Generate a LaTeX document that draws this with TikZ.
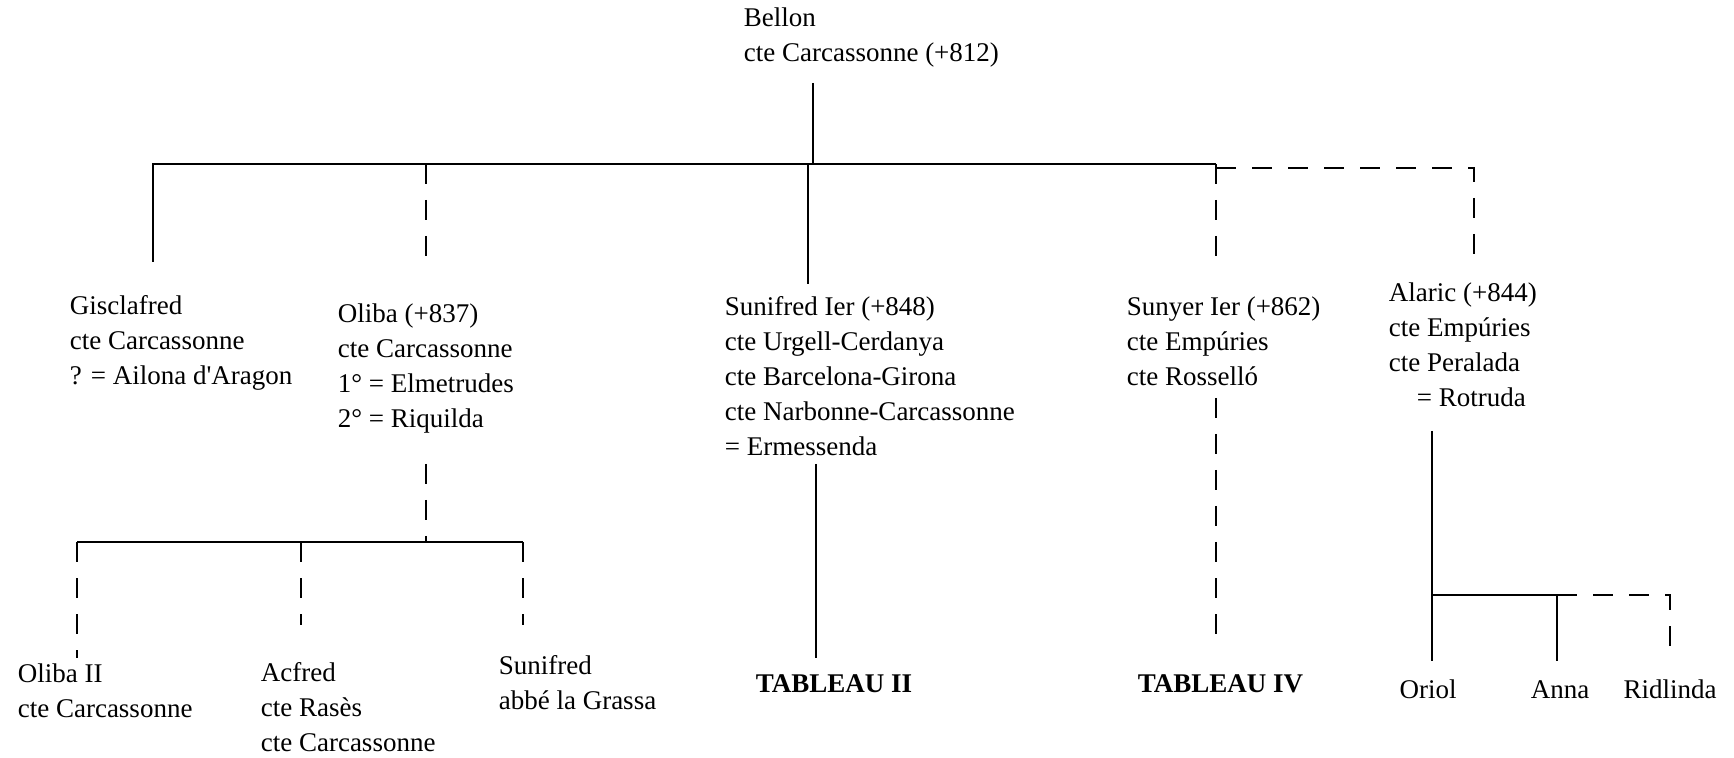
\documentclass[tikz,border=0pt]{standalone}
\usepackage{fontspec}
\setmainfont{Liberation Serif}[Ligatures=TeXOff]
\begin{document}
\begin{tikzpicture}[x=0.5pt,y=-0.5pt,line width=0.8pt,
    person/.style={anchor=base west,inner sep=0pt,align=left,
      font=\fontsize{13.5}{17.5}\selectfont},
    child/.style={anchor=base,inner sep=0pt,font=\fontsize{13.5}{17.5}\selectfont},
    uncertain/.style={dash pattern=on 10pt off 8pt}]
  \useasboundingbox (0,0) rectangle (1734,758);
  % persons (placed by the baseline of their last line)
  \node[person] (bellon) at (743,62) {Bellon\\cte Carcassonne (+812)};
  \node[person] (gisclafred) at (69,385) {Gisclafred\\cte Carcassonne\\? = Ailona d'Aragon};
  \node[person] (oliba) at (337,428) {Oliba (+837)\\cte Carcassonne\\1° = Elmetrudes\\2° = Riquilda};
  \node[person] (sunifred) at (724,456) {Sunifred Ier (+848)\\cte Urgell-Cerdanya\\cte Barcelona-Girona\\cte Narbonne-Carcassonne\\= Ermessenda};
  \node[person] (sunyer) at (1126,386) {Sunyer Ier (+862)\\cte Empúries\\cte Rosselló};
  \node[person] (alaric) at (1388,407) {Alaric (+844)\\cte Empúries\\cte Peralada\\\hspace*{14pt}= Rotruda};
  \node[person] (olibaii) at (17,717) {Oliba II\\cte Carcassonne};
  \node[person] (acfred) at (260,751) {Acfred\\cte Rasès\\cte Carcassonne};
  \node[person] (sunifredabbe) at (498,709) {Sunifred\\abbé la Grassa};
  \node[person] (tableauii) at (755,692) {\textbf{TABLEAU II}};
  \node[person] (tableauiv) at (1137,692) {\textbf{TABLEAU IV}};
  \node[child] (oriol) at (1428,698) {Oriol};
  \node[child] (anna) at (1560,698) {Anna};
  \node[child] (ridlinda) at (1670,698) {Ridlinda};
  % line ends
  \coordinate (bellon down) at (813,83);
  \coordinate (bar) at (813,164);
  \coordinate (gisclafred up) at (153,262);
  \coordinate (oliba up) at (426,270);
  \coordinate (sunifred up) at (808,284);
  \coordinate (sunyer up) at (1216,265);
  \coordinate (alaric bar) at (1474,168);
  \coordinate (alaric up) at (1474,254);
  \coordinate (oliba down) at (426,464);
  \coordinate (subbar) at (426,542);
  \coordinate (olibaii up) at (77,658);
  \coordinate (acfred up) at (301,625);
  \coordinate (sunifredabbe up) at (523,625);
  \coordinate (sunifred down) at (816,464);
  \coordinate (tableauii up) at (816,658);
  \coordinate (sunyer down) at (1216,398);
  \coordinate (tableauiv up) at (1216,639);
  \coordinate (alaric down) at (1432,431);
  \coordinate (kids) at (1432,595);
  \coordinate (oriol up) at (1432,661);
  \coordinate (anna up) at (1557,661);
  \coordinate (ridlinda up) at (1670,661);
  % Bellon
  \draw (bellon down) -- (bar);
  \draw (gisclafred up) |- (sunyer up |- bar);
  \draw (sunifred up) -- (sunifred up |- bar);
  \draw[uncertain] (oliba up |- bar) -- (oliba up);
  \draw[uncertain] (sunyer up |- bar) -- (sunyer up);
  \draw[uncertain] (sunyer up |- alaric bar) -| (alaric up);
  % Oliba
  \draw[uncertain] (oliba down) -- (subbar);
  \draw (olibaii up |- subbar) -- (sunifredabbe up |- subbar);
  \draw[uncertain] (olibaii up |- subbar) -- (olibaii up);
  \draw[uncertain] (acfred up |- subbar) -- (acfred up);
  \draw[uncertain] (sunifredabbe up |- subbar) -- (sunifredabbe up);
  % tableaux
  \draw (sunifred down) -- (tableauii up);
  \draw[uncertain] (sunyer down) -- (tableauiv up);
  % Alaric
  \draw (alaric down) -- (oriol up);
  \draw (kids) -- (anna up |- kids) -- (anna up);
  \draw[uncertain] (anna up |- kids) -| (ridlinda up);
\end{tikzpicture}
\end{document}
